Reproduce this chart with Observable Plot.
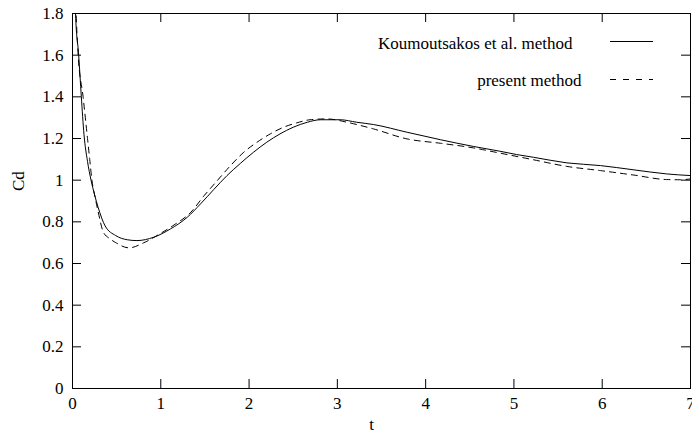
<!DOCTYPE html>
<html>
<head>
<meta charset="utf-8">
<script src="https://cdn.jsdelivr.net/npm/d3@7"></script>
<script src="https://cdn.jsdelivr.net/npm/@observablehq/plot@0.6"></script>
<style>
  html, body { margin: 0; padding: 0; background: #fff; }
  #chart { width: 692px; height: 434px; }
</style>
</head>
<body>
<div id="chart"></div>
<script>
const seriesNames = ["Koumoutsakos et al. method", "present method"];

const tKoum = [0.02, 0.034, 0.07, 0.10, 0.13, 0.17, 0.21, 0.25, 0.29, 0.37, 0.49, 0.62, 0.73, 0.92, 1.11, 1.30, 1.45, 1.60, 1.75, 1.90, 2.05, 2.20, 2.35, 2.50, 2.66, 2.81, 3.03, 3.22, 3.41, 3.79, 4.17, 4.54, 4.84, 5.03, 5.22, 5.60, 5.98, 6.35, 6.73, 7.0];
const cdKoum = [2.10, 1.80, 1.60, 1.40, 1.22, 1.09, 1.00, 0.93, 0.87, 0.78, 0.734, 0.714, 0.71, 0.726, 0.766, 0.822, 0.886, 0.955, 1.022, 1.08, 1.134, 1.182, 1.222, 1.254, 1.278, 1.29, 1.29, 1.278, 1.267, 1.23, 1.194, 1.162, 1.139, 1.123, 1.11, 1.083, 1.07, 1.05, 1.03, 1.022];

const tPresent = [0.02, 0.04, 0.064, 0.12, 0.17, 0.195, 0.22, 0.255, 0.29, 0.35, 0.42, 0.49, 0.64, 0.81, 1.00, 1.15, 1.34, 1.49, 1.64, 1.79, 1.94, 2.09, 2.24, 2.39, 2.54, 2.69, 2.88, 3.11, 3.22, 3.41, 3.79, 4.17, 4.54, 4.84, 5.22, 5.60, 5.98, 6.35, 6.73, 6.88, 7.0];
const cdPresent = [2.00, 1.80, 1.60, 1.40, 1.20, 1.10, 1.00, 0.92, 0.85, 0.75, 0.72, 0.70, 0.675, 0.70, 0.745, 0.785, 0.846, 0.925, 0.998, 1.07, 1.134, 1.182, 1.222, 1.254, 1.275, 1.29, 1.294, 1.278, 1.267, 1.246, 1.198, 1.177, 1.155, 1.13, 1.098, 1.066, 1.046, 1.025, 1.003, 1.002, 1.006];

const xTicks = [0, 1, 2, 3, 4, 5, 6, 7];
const xTickLabels = ["0", "1", "2", "3", "4", "5", "6", "7"];
const yTicks = [0, 0.2, 0.4, 0.6, 0.8, 1, 1.2, 1.4, 1.6, 1.8];
const yTickLabels = ["0", "0.2", "0.4", "0.6", "0.8", "1", "1.2", "1.4", "1.6", "1.8"];
const xLabel = "t";
const yLabel = "Cd";

const koum = tKoum.map((t, i) => ({t, cd: cdKoum[i]}));
const present = tPresent.map((t, i) => ({t, cd: cdPresent[i]}));

const W = 692, H = 434;
const mL = 72, mR = 2, mT = 13, mB = 46;
const innerW = W - mL - mR, innerH = H - mT - mB;
const tickLen = 9;
const font = "'Liberation Serif', 'Times New Roman', serif";

const chart = Plot.plot({
  width: W,
  height: H,
  marginLeft: mL,
  marginRight: mR,
  marginTop: mT,
  marginBottom: mB,
  style: {fontFamily: font, fontSize: "17px", background: "#fff", color: "#000"},
  x: {domain: [0, 7], axis: null},
  y: {domain: [0, 1.8], axis: null},
  marks: [
    Plot.line(koum, {x: "t", y: "cd", stroke: "#000", strokeWidth: 1, curve: "monotone-x", clip: true}),
    Plot.line(present, {x: "t", y: "cd", stroke: "#000", strokeWidth: 1, strokeDasharray: "6,5", curve: "monotone-x", clip: true}),
    Plot.frame({stroke: "#000", strokeWidth: 1}),
    Plot.tickX(xTicks, {x: d => d, stroke: "#000", insetTop: innerH - tickLen}),
    Plot.tickX(xTicks, {x: d => d, stroke: "#000", insetBottom: innerH - tickLen}),
    Plot.tickY(yTicks, {y: d => d, stroke: "#000", insetRight: innerW - tickLen}),
    Plot.tickY(yTicks, {y: d => d, stroke: "#000", insetLeft: innerW - tickLen}),
    Plot.axisX(xTicks, {tickSize: 0, tickPadding: 8, tickFormat: (d, i) => xTickLabels[i], fontSize: 17, fill: "#000", label: null}),
    Plot.axisY(yTicks, {tickSize: 0, tickPadding: 9, tickFormat: (d, i) => yTickLabels[i], fontSize: 17, fill: "#000", label: null}),
    Plot.text([xLabel], {frameAnchor: "bottom", dx: -10, dy: 36, lineAnchor: "middle", fontSize: 17, fill: "#000"}),
    Plot.text([yLabel], {frameAnchor: "left", rotate: -90, dx: -54, dy: -10, lineAnchor: "middle", fontSize: 17, fill: "#000"}),
    Plot.text([seriesNames[0]], {frameAnchor: "top-right", dx: 572 - (W - mR), dy: 48 - mT, lineAnchor: "bottom", textAnchor: "end", fontSize: 17, fill: "#000"}),
    Plot.text([seriesNames[1]], {frameAnchor: "top-right", dx: 581 - (W - mR), dy: 85 - mT, lineAnchor: "bottom", textAnchor: "end", fontSize: 17, fill: "#000"})
  ]
});

// legend line samples
const svg = d3.select(chart);
svg.append("line").attr("x1", 610).attr("x2", 653).attr("y1", 41.5).attr("y2", 41.5)
  .attr("stroke", "#000").attr("stroke-width", 1);
svg.append("line").attr("x1", 610).attr("x2", 653).attr("y1", 79.5).attr("y2", 79.5)
  .attr("stroke", "#000").attr("stroke-width", 1).attr("stroke-dasharray", "6,7");

document.getElementById("chart").appendChild(chart);
</script>
</body>
</html>
